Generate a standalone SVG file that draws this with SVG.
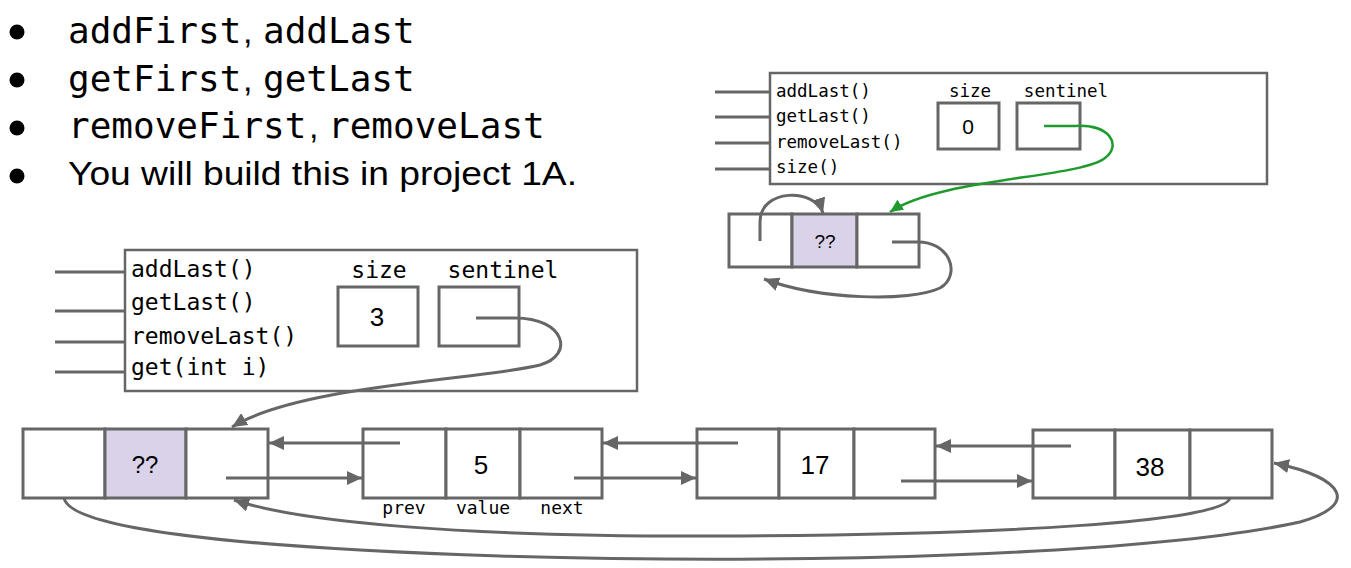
<svg xmlns="http://www.w3.org/2000/svg" width="1351" height="568" viewBox="0 0 1351 568">
<style>
.bx{fill:#fff;stroke:#666;stroke-width:3}
.pn{fill:#fff;stroke:#666;stroke-width:2.5}
.pu{fill:#d9d2e9;stroke:#666;stroke-width:3}
.ln{fill:none;stroke:#666;stroke-width:3}
.gr{fill:none;stroke:#1f9a2f;stroke-width:2.5}
.mono{font-family:"DejaVu Sans Mono","Liberation Mono",monospace;fill:#000}
.sans{font-family:"Liberation Sans",Arial,sans-serif;fill:#000}
</style>
<defs>
<marker id="ah" markerUnits="userSpaceOnUse" markerWidth="16" markerHeight="14" refX="15" refY="7" orient="auto"><path d="M0,0 L15,7 L0,14 z" fill="#666"/></marker>
<marker id="ag" markerUnits="userSpaceOnUse" markerWidth="14" markerHeight="12" refX="13" refY="6" orient="auto"><path d="M0,0 L13,6 L0,12 z" fill="#1f9a2f"/></marker>
</defs>
<rect width="1351" height="568" fill="#fff"/>

<g id="bullets">
<circle cx="17" cy="32" r="7.5"/><circle cx="17" cy="80" r="7.5"/><circle cx="17" cy="128" r="7.5"/><circle cx="17" cy="176" r="7.5"/>
<text class="mono" x="68" y="43" font-size="36">addFirst</text><text class="sans" x="243" y="43" font-size="34">,</text><text class="mono" x="263" y="43" font-size="36">addLast</text>
<text class="mono" x="68" y="91" font-size="36">getFirst</text><text class="sans" x="243" y="91" font-size="34">,</text><text class="mono" x="263" y="91" font-size="36">getLast</text>
<text class="mono" x="68" y="138" font-size="36">removeFirst</text><text class="sans" x="309" y="138" font-size="34">,</text><text class="mono" x="328" y="138" font-size="36">removeLast</text>
<text class="sans" x="68" y="185" font-size="34" textLength="509" lengthAdjust="spacingAndGlyphs">You will build this in project 1A.</text>
</g>

<g id="panel-top">
<rect class="pn" x="770" y="73" width="497" height="111"/>
<path class="ln" d="M715,92H770M715,117H770M715,143H770M715,169H770" stroke-width="2"/>
<text class="mono" x="776" y="97" font-size="17.5">addLast()</text>
<text class="mono" x="776" y="122" font-size="17.5">getLast()</text>
<text class="mono" x="776" y="148" font-size="17.5">removeLast()</text>
<text class="mono" x="776" y="173" font-size="17.5">size()</text>
<text class="mono" x="970" y="97" font-size="17.5" text-anchor="middle">size</text>
<text class="mono" x="1066" y="97" font-size="17.5" text-anchor="middle">sentinel</text>
<rect class="bx" x="938" y="103" width="61" height="46"/>
<text class="sans" x="968" y="134" font-size="21" text-anchor="middle">0</text>
<rect class="bx" x="1017" y="103" width="63" height="46" stroke-width="2"/>
</g>

<g id="sentinel-top">
<rect class="bx" x="729" y="214" width="63" height="53"/>
<rect class="pu" x="792" y="214" width="65" height="53"/>
<rect class="bx" x="857" y="214" width="62" height="53"/>
<text class="sans" x="825" y="248" font-size="19" text-anchor="middle">??</text>
</g>

<g id="panel-bottom">
<rect class="pn" x="125" y="250" width="512" height="141"/>
<path class="ln" d="M55,272H125M55,311H125M55,342H125M55,372H125" stroke-width="2.5"/>
<text class="mono" x="131" y="277" font-size="23">addLast()</text>
<text class="mono" x="131" y="310" font-size="23">getLast()</text>
<text class="mono" x="131" y="344" font-size="23">removeLast()</text>
<text class="mono" x="131" y="375" font-size="23">get(int i)</text>
<text class="mono" x="379" y="278" font-size="23" text-anchor="middle">size</text>
<text class="mono" x="503" y="278" font-size="23" text-anchor="middle">sentinel</text>
<rect class="bx" x="338" y="287" width="80" height="59" stroke-width="3.5"/>
<text class="sans" x="377" y="326" font-size="26" text-anchor="middle">3</text>
<rect class="bx" x="439" y="287" width="80" height="59"/>
</g>

<g id="node-sentinel">
<rect class="bx" x="23" y="429" width="82" height="69"/>
<rect class="pu" x="105" y="429" width="81" height="69"/>
<rect class="bx" x="186" y="429" width="82" height="69"/>
<text class="sans" x="145" y="473" font-size="24" text-anchor="middle">??</text>
</g>

<g id="node-5">
<rect class="bx" x="363" y="429" width="83" height="69"/>
<rect class="bx" x="446" y="429" width="74" height="69"/>
<rect class="bx" x="520" y="429" width="82" height="69"/>
<text class="sans" x="481" y="474" font-size="26" text-anchor="middle">5</text>
<text class="mono" x="404" y="514" font-size="18" text-anchor="middle">prev</text>
<text class="mono" x="483" y="514" font-size="18" text-anchor="middle">value</text>
<text class="mono" x="562" y="514" font-size="18" text-anchor="middle">next</text>
</g>

<g id="node-17">
<rect class="bx" x="697" y="429" width="82" height="69"/>
<rect class="bx" x="779" y="429" width="75" height="69"/>
<rect class="bx" x="854" y="429" width="81" height="69"/>
<text class="sans" x="815" y="474" font-size="26" text-anchor="middle">17</text>
</g>

<g id="node-38">
<rect class="bx" x="1033" y="430" width="82" height="68"/>
<rect class="bx" x="1115" y="430" width="75" height="68"/>
<rect class="bx" x="1190" y="430" width="82" height="68"/>
<text class="sans" x="1150" y="476" font-size="26" text-anchor="middle">38</text>
</g>

<g id="connectors">
<path class="gr" d="M1044,126 L1075,126 C1110,124 1122,145 1105,158 C1080,178 940,178 890,212" marker-end="url(#ag)"/>
<path class="ln" d="M760,241 L760,222 C760,188 815,188 823,213" marker-end="url(#ah)" stroke-width="2.5"/>
<path class="ln" d="M892,242 L915,242 C950,240 962,275 940,288 C910,302 820,300 764,279" marker-end="url(#ah)" stroke-width="2.5"/>
<path class="ln" d="M476,318 L515,318 C565,318 575,355 540,365 C480,380 300,385 232,427" marker-end="url(#ah)"/>
<path class="ln" d="M400,443 H269" marker-end="url(#ah)"/>
<path class="ln" d="M226,478 H362" marker-end="url(#ah)"/>
<path class="ln" d="M738,443 H603" marker-end="url(#ah)"/>
<path class="ln" d="M574,478 H696" marker-end="url(#ah)"/>
<path class="ln" d="M1071,446 H936" marker-end="url(#ah)"/>
<path class="ln" d="M901,481 H1032" marker-end="url(#ah)"/>
<path class="ln" d="M1230,498 C1225,522 1000,535 720,536 C460,537 300,522 234,500" marker-end="url(#ah)"/>
<path class="ln" d="M64,498 C70,530 250,548 500,556 C800,565 1150,555 1300,522 C1360,505 1345,478 1274,463" marker-end="url(#ah)"/>
</g>
</svg>
